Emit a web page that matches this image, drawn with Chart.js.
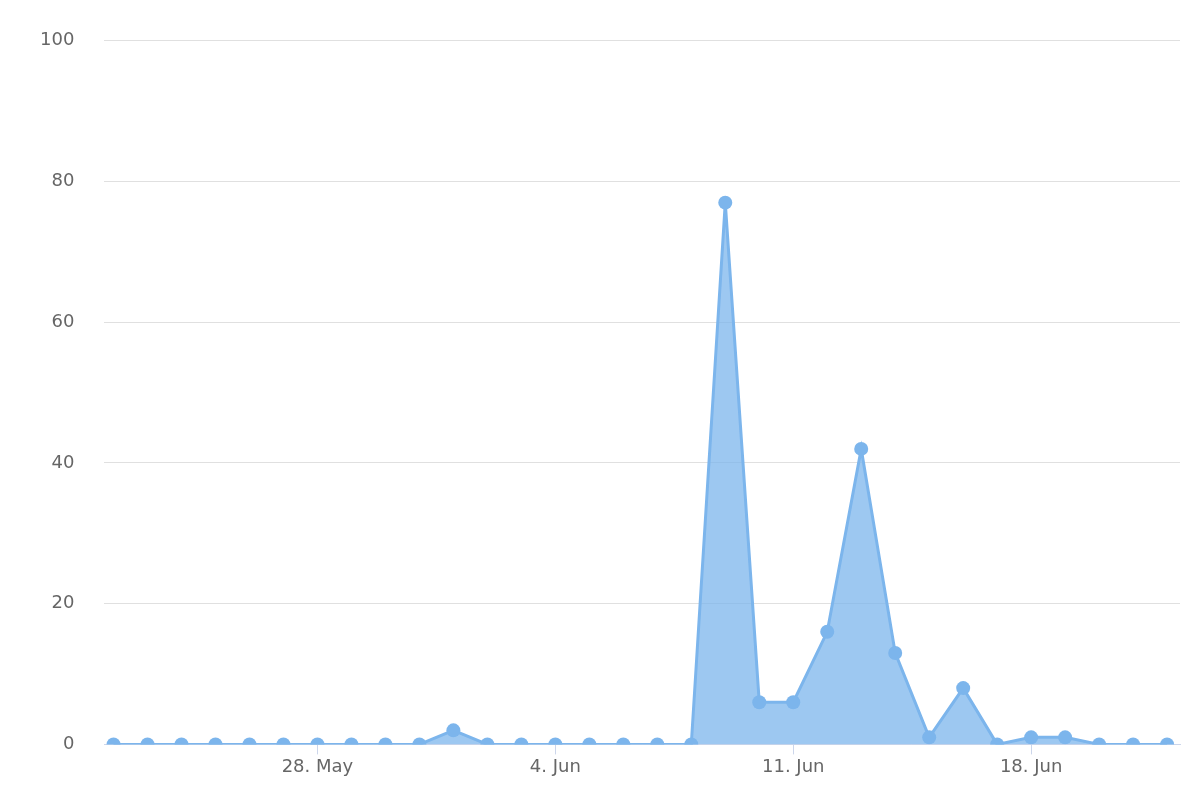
<!DOCTYPE html>
<html>
<head>
<meta charset="utf-8">
<script src="https://cdn.jsdelivr.net/npm/chart.js@4/dist/chart.umd.min.js"></script>
<style>
  html, body { margin: 0; padding: 0; background: #fff; }
  #wrap { width: 1200px; height: 800px; }
</style>
</head>
<body>
<div id="wrap"><canvas id="c"></canvas></div>
<script>
// One point per day, 22 May .. 22 Jun
const dayLabels = [
  '22. May', '23. May', '24. May', '25. May', '26. May', '27. May', '28. May', '29. May',
  '30. May', '31. May', '1. Jun', '2. Jun', '3. Jun', '4. Jun', '5. Jun', '6. Jun',
  '7. Jun', '8. Jun', '9. Jun', '10. Jun', '11. Jun', '12. Jun', '13. Jun', '14. Jun',
  '15. Jun', '16. Jun', '17. Jun', '18. Jun', '19. Jun', '20. Jun', '21. Jun', '22. Jun'
];
const values = [
  0, 0, 0, 0, 0, 0, 0, 0, 0, 0, 2, 0, 0, 0, 0, 0,
  0, 0, 77, 6, 6, 16, 42, 13, 1, 8, 0, 1, 1, 0, 0, 0
];
const xTickIndexes = [6, 13, 20, 27];
const yTicks = [0, 20, 40, 60, 80, 100];

const points = values.map((v, i) => ({ x: i, y: v }));

new Chart(document.getElementById('c'), {
  type: 'line',
  data: {
    datasets: [{
      data: points,
      borderColor: '#7cb5ec',
      backgroundColor: 'rgba(124, 181, 236, 0.75)',
      borderWidth: 3,
      fill: 'origin',
      tension: 0,
      pointRadius: 7,
      pointHoverRadius: 7,
      pointBackgroundColor: '#7cb5ec',
      pointBorderWidth: 0
    }]
  },
  options: {
    responsive: true,
    maintainAspectRatio: false,
    animation: false,
    layout: { padding: { left: 10, right: 20, top: 10, bottom: 20 } },
    plugins: { legend: { display: false }, tooltip: { enabled: false } },
    scales: {
      x: {
        type: 'linear',
        min: -0.27,
        max: 31.38,
        afterBuildTicks: axis => { axis.ticks = xTickIndexes.map(v => ({ value: v })); },
        grid: { drawOnChartArea: false, drawTicks: true, tickLength: 10, color: '#ccd6eb' },
        border: { color: '#ccd6eb', width: 1 },
        ticks: {
          color: '#666', font: { family: 'DejaVu Sans', size: 18 }, padding: 2,
          callback: v => dayLabels[v]
        }
      },
      y: {
        min: 0,
        max: 100,
        afterBuildTicks: axis => { axis.ticks = yTicks.map(v => ({ value: v })); },
        grid: { color: '#e0e0e0', drawTicks: false },
        border: { display: false },
        ticks: { color: '#666', font: { family: 'DejaVu Sans', size: 18 }, padding: 30 }
      }
    }
  }
});
</script>
</body>
</html>
